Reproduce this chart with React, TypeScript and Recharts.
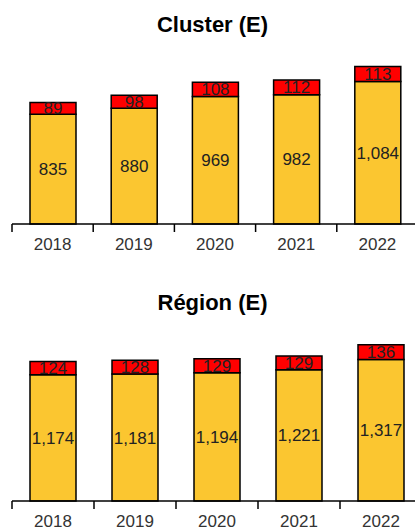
import React from 'react';
import { BarChart, Bar, XAxis, YAxis, LabelList } from 'recharts';

const years = ['2018', '2019', '2020', '2021', '2022'];
const clusterBase = [835, 880, 969, 982, 1084];
const clusterTop = [89, 98, 108, 112, 113];
const regionBase = [1174, 1181, 1194, 1221, 1317];
const regionTop = [124, 128, 129, 129, 136];

const YELLOW = '#FBC630';
const RED = '#FF0000';
const FONT = '"Liberation Sans", Arial, sans-serif';

const BandTick = (props: any) => {
  const { x, y, payload } = props;
  const half = payload && payload.offset ? payload.offset : 41;
  return (
    <g>
      <line x1={x - half} x2={x - half} y1={y} y2={y + 8} stroke="#000" strokeWidth={1.5} />
      <text x={x} y={y + 22} textAnchor="middle" dominantBaseline="middle" fontSize={17} fill="#333" fontFamily={FONT}>
        {payload.value}
      </text>
    </g>
  );
};

const fmt = (v: any) => Number(v).toLocaleString('en-US');

interface PanelProps {
  title: string;
  base: number[];
  top: number[];
  yMax: number;
  titleY: number;
  marginTop: number;
  marginBottom: number;
  axisHeight: number;
  width: number;
}

const Panel: React.FC<PanelProps> = ({ title, base, top, yMax, titleY, marginTop, marginBottom, axisHeight, width }) => {
  const data = years.map((year, i) => ({ year, base: base[i], top: top[i] }));
  return (
    <div style={{ position: 'relative', width: 415, height: 265, overflow: 'hidden' }}>
      <div
        style={{
          position: 'absolute',
          left: 0,
          width: 425,
          top: titleY - 14,
          height: 28,
          lineHeight: '28px',
          textAlign: 'center',
          fontFamily: FONT,
          fontWeight: 'bold',
          fontSize: 22,
          color: '#000',
        }}
      >
        {title}
      </div>
      <BarChart
        width={width}
        height={265}
        data={data}
        margin={{ top: marginTop, right: 0, bottom: marginBottom, left: 12 }}
        barSize={46}
      >
        <XAxis
          dataKey="year"
          height={axisHeight}
          tickLine={false}
          tickSize={0}
          tickMargin={0}
          axisLine={{ stroke: '#000', strokeWidth: 1.5 }}
          tick={<BandTick />}
          interval={0}
        />
        <YAxis hide domain={[0, yMax]} />
        <Bar dataKey="base" stackId="a" fill={YELLOW} stroke="#000" strokeWidth={1.5} isAnimationActive={false}>
          <LabelList dataKey="base" position="center" formatter={fmt} fill="#222" fontSize={17} fontFamily={FONT} />
        </Bar>
        <Bar dataKey="top" stackId="a" fill={RED} stroke="#000" strokeWidth={1.5} isAnimationActive={false}>
          <LabelList dataKey="top" position="center" formatter={fmt} fill="#222" fontSize={17} fontFamily={FONT} />
        </Bar>
      </BarChart>
    </div>
  );
};

export default function App() {
  return (
    <div style={{ position: 'absolute', left: 0, top: 0, width: 415, height: 530, overflow: 'hidden', background: '#fff' }}>
      <Panel
        title="Cluster (E)"
        base={clusterBase}
        top={clusterTop}
        yMax={1300}
        titleY={25}
        marginTop={53}
        marginBottom={11}
        axisHeight={30}
        width={418}
      />
      <Panel
        title="Région (E)"
        base={regionBase}
        top={regionTop}
        yMax={1600}
        titleY={38}
        marginTop={64}
        marginBottom={0}
        axisHeight={29}
        width={422}
      />
    </div>
  );
}
